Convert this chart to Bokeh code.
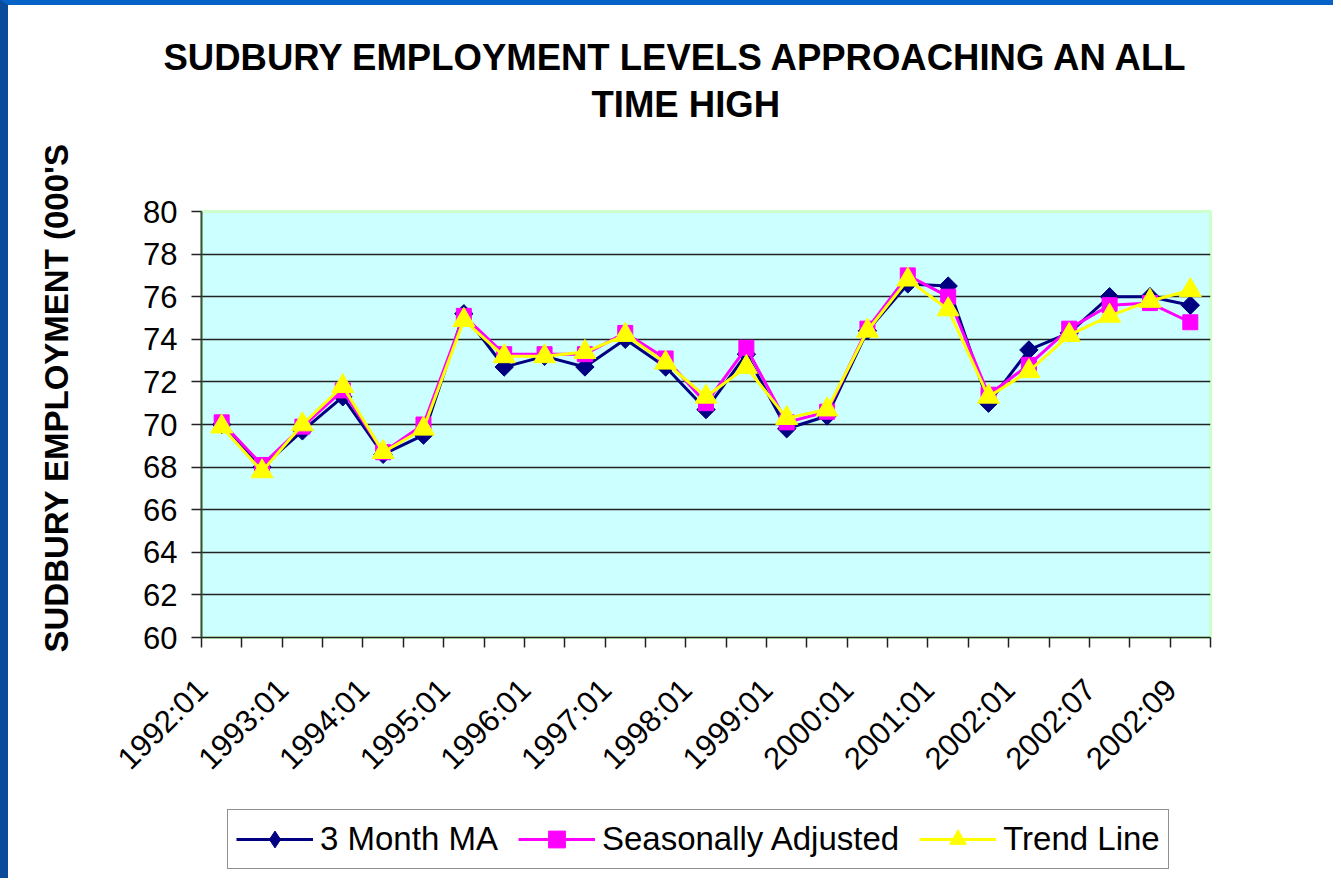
import numpy as np
from bokeh.plotting import figure
from bokeh.layouts import column
from bokeh.models import Range1d, FixedTicker, Legend, LegendItem, Title
from bokeh.embed import file_html
from bokeh.resources import INLINE

# ---- data ----
tick_labels = ["1992:01", "1993:01", "1994:01", "1995:01", "1996:01", "1997:01",
               "1998:01", "1999:01", "2000:01", "2001:01", "2002:01", "2002:07", "2002:09"]
ma3 = [70.0, 68.0, 69.7, 71.3, 68.6, 69.5, 75.2, 72.7, 73.2, 72.7, 74.0, 72.7, 70.7,
       73.3, 69.8, 70.4, 74.4, 76.6, 76.5, 71.0, 73.5, 74.3, 76.0, 76.0, 75.6]
seas_adj = [70.1, 68.1, 69.9, 71.6, 68.7, 70.0, 75.1, 73.3, 73.3, 73.3, 74.3, 73.1, 71.0,
            73.6, 70.1, 70.6, 74.5, 77.0, 76.0, 71.4, 72.8, 74.5, 75.6, 75.7, 74.8]
trend = [69.9, 67.8, 70.0, 71.8, 68.7, 69.8, 74.9, 73.2, 73.2, 73.4, 74.2, 72.9, 71.3,
         72.7, 70.3, 70.7, 74.4, 76.8, 75.4, 71.3, 72.5, 74.2, 75.1, 75.8, 76.3]
series_names = ["3 Month MA", "Seasonally Adjusted", "Trend Line"]
title_lines = ["SUDBURY EMPLOYMENT LEVELS APPROACHING AN ALL", "TIME HIGH"]
y_title = "SUDBURY EMPLOYMENT (000'S"
y_ticks = list(range(60, 81, 2))

FONT = "Liberation Sans"
NAVY, MAGENTA, YELLOW = "#000080", "#FF00FF", "#FFFF00"
n = len(ma3)
xs = [i + 0.5 for i in range(n)]

# the slide frame (blue strip at left and top) is a CSS border on the layout
BL, BT = 8, 5
W, H1, H2 = 1325, 795, 78
p = figure(width=W, height=H1, output_backend="svg", toolbar_location=None,
           x_range=Range1d(0, n), y_range=Range1d(60, 80),
           min_border_left=201 - BL, min_border_right=123, min_border_top=211 - BT,
           min_border_bottom=163, background_fill_color="#CCFFFF",
           border_fill_color="white")
p.outline_line_color = "#CCFFCC"
p.outline_line_width = 3

# grid
p.xgrid.visible = False
p.ygrid.ticker = FixedTicker(ticks=y_ticks[1:-1])
p.ygrid.grid_line_color = "#222222"
p.ygrid.grid_line_width = 1.5

# y axis
yax = p.yaxis[0]
yax.ticker = FixedTicker(ticks=y_ticks)
yax.axis_line_color = "#3C4F3C"
yax.axis_line_width = 2
yax.major_tick_out = 10
yax.major_tick_in = 0
yax.major_tick_line_color = "#222222"
yax.major_tick_line_width = 1.5
yax.minor_tick_line_color = None
yax.major_label_text_font = FONT
yax.major_label_text_font_size = "31px"
yax.major_label_text_color = "black"
yax.major_label_standoff = 14

# x axis: boundary ticks as minor ticks, labels on every other category
xax = p.xaxis[0]
label_pos = [2 * k + 0.02 for k in range(len(tick_labels))]
xax.ticker = FixedTicker(ticks=label_pos, minor_ticks=list(range(n + 1)))
xax.major_label_overrides = {pos: lab for pos, lab in zip(label_pos, tick_labels)}
xax.major_tick_line_color = None
xax.minor_tick_out = 10
xax.minor_tick_in = 0
xax.minor_tick_line_color = "#222222"
xax.minor_tick_line_width = 1.5
xax.axis_line_color = "#222222"
xax.axis_line_width = 1.5
xax.major_label_orientation = np.pi / 4
xax.major_label_text_font = FONT
xax.major_label_text_font_size = "31px"
xax.major_label_text_color = "black"
xax.major_label_standoff = 37

# series
p.line(xs, ma3, line_color=NAVY, line_width=3)
p.scatter(xs, ma3, marker="square", angle=np.pi / 4, size=13,
          fill_color=NAVY, line_color=NAVY)
p.line(xs, seas_adj, line_color=MAGENTA, line_width=3)
p.scatter(xs, seas_adj, marker="square", size=15, fill_color=MAGENTA, line_color=MAGENTA)
p.line(xs, trend, line_color=YELLOW, line_width=3)
p.scatter(xs, trend, marker="triangle", size=22, fill_color=YELLOW, line_color=YELLOW)

# titles (blank lines pad the block so the two lines sit as in the reference)
t2 = Title(text=title_lines[1] + "\n \n ", align="left", offset=390, standoff=0,
           text_font=FONT, text_font_size="36.5px", text_font_style="bold",
           text_color="black", text_line_height=1.05)
t1 = Title(text=title_lines[0], align="left", offset=-38, standoff=10,
           text_font=FONT, text_font_size="36.5px", text_font_style="bold",
           text_color="black")
p.add_layout(t2, "above")
p.add_layout(t1, "above")

ylab = Title(text=y_title + "\n ", align="left", offset=-15, standoff=0,
             text_font=FONT, text_font_size="33px", text_font_style="bold",
             text_color="black", text_line_height=1.76)
p.add_layout(ylab, "left")

# ---- legend strip below the chart ----
p2 = figure(width=W, height=H2, output_backend="svg", toolbar_location=None,
            x_range=Range1d(-3, -2), y_range=Range1d(-3, -2),
            x_axis_location=None, y_axis_location=None, min_border=0,
            background_fill_color="white", border_fill_color="white")
p2.outline_line_color = None
p2.grid.visible = False
l1 = p2.line(xs, ma3, line_color=NAVY, line_width=3)
m1 = p2.scatter(xs, ma3, marker="diamond", size=19, fill_color=NAVY, line_color=NAVY)
l2 = p2.line(xs, seas_adj, line_color=MAGENTA, line_width=3)
m2 = p2.scatter(xs, seas_adj, marker="square", size=15, fill_color=MAGENTA, line_color=MAGENTA)
l3 = p2.line(xs, trend, line_color=YELLOW, line_width=3)
m3 = p2.scatter(xs, trend, marker="triangle", size=18, fill_color=YELLOW, line_color=YELLOW)

legend = Legend(items=[LegendItem(label=series_names[0], renderers=[l1, m1]),
                       LegendItem(label=series_names[1], renderers=[l2, m2]),
                       LegendItem(label=series_names[2], renderers=[l3, m3])],
                orientation="horizontal", location=(26, 9),
                label_text_font=FONT, label_text_font_size="33px",
                label_text_color="black",
                glyph_width=77, glyph_height=42, label_standoff=7, spacing=20,
                padding=8, margin=0, border_line_color="#222222",
                border_line_width=1.5, background_fill_color="white",
                background_fill_alpha=1.0)
p2.add_layout(legend, "center")

layout = column(p, p2, spacing=0,
                styles={"border-left": f"{BL}px solid #0A4C9A",
                        "border-top": f"{BT}px solid #0762C8"})
open("out.html", "w").write(file_html(layout, INLINE))
